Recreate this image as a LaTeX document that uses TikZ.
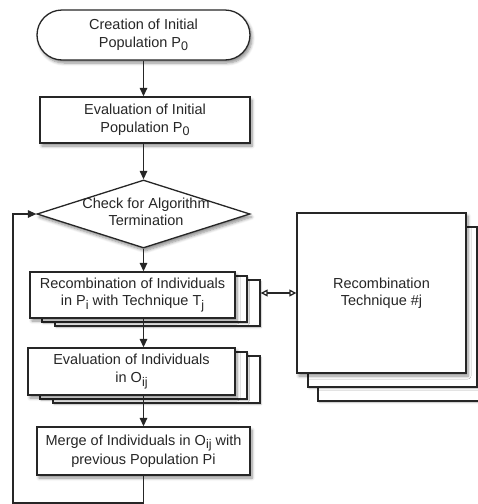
\documentclass[tikz,border=0pt]{standalone}
\usepackage{fontspec}
\setmainfont{Liberation Sans}
\usetikzlibrary{shapes.geometric,shadows,shadows.blur,arrows.meta}
\newcommand\lsub[1]{\raisebox{-0.5ex}{\fontsize{12.5}{12.5}\selectfont #1}}
\begin{document}
\begin{tikzpicture}[x=1pt,y=-1pt,
  line width=1.3pt,
  shad/.style={blur shadow={shadow xshift=2pt,shadow yshift=-3pt,shadow opacity=45,shadow blur steps=6,shadow blur radius=3pt}},
  box/.style={draw=black!85,fill=white,align=center,inner sep=0pt,
    font=\fontsize{14.5}{17.5}\selectfont,text=black!85,shad},
  stackbox/.style={draw=black!85,fill=white,inner sep=0pt,
    blur shadow={shadow xshift=1pt,shadow yshift=-1.5pt,shadow opacity=30,shadow blur radius=1.5pt}},
  flow/.style={draw=black!85,-{Triangle[length=8.5pt,width=7.5pt]}},
  dbl/.style={draw=black!85,{Triangle[open,length=7pt,width=7pt]}-{Triangle[open,length=7pt,width=7pt]}}
]
\clip (0,0) rectangle (478,504);
\useasboundingbox (0,0) rectangle (478,504);

% top terminal
\node[box,rounded corners=25pt,minimum width=213pt,minimum height=50pt] (start) at (143.5,35)
  {Creation of Initial\\Population P\lsub{0}};

% evaluation of initial population
\node[box,minimum width=210pt,minimum height=46pt] (evalinit) at (145,120)
  {Evaluation of Initial\\Population P\lsub{0}};

% diamond
\node[diamond,draw=black!85,fill=white,inner sep=0pt,minimum width=213pt,minimum height=68pt,shad] (chk) at (143.5,214) {};
\node[align=center,font=\fontsize{14.5}{17.5}\selectfont,text=black!85] (chkt) at (146,212) {Check for Algorithm\\Termination};

% recombination stack
\coordinate (recC) at (132.5,295);
\node[stackbox,minimum width=205pt,minimum height=46pt] (rec3) at ([shift={(25,8)}]recC) {};
\node[stackbox,minimum width=205pt,minimum height=46pt] (rec2) at ([shift={(12,4)}]recC) {};
\node[box,minimum width=205pt,minimum height=46pt] (rec) at (recC)
  {Recombination of Individuals\\in P\lsub{i} with Technique T\lsub{j}};

% evaluation of individuals stack
\coordinate (evC) at (131.5,371.5);
\node[stackbox,minimum width=207pt,minimum height=47pt] (ev3) at ([shift={(25,8)}]evC) {};
\node[stackbox,minimum width=207pt,minimum height=47pt] (ev2) at ([shift={(12,4)}]evC) {};
\node[box,minimum width=207pt,minimum height=47pt] (ev) at (evC)
  {Evaluation of Individuals\\in O\lsub{ij}};

% merge
\node[box,minimum width=213pt,minimum height=48pt] (merge) at (143.5,451)
  {Merge of Individuals in O\lsub{ij} with\\[2pt]previous Population Pi};

% big technique stack
\coordinate (bigC) at (381.5,293);
\node[stackbox,minimum width=169pt,minimum height=160pt] (big3) at ([shift={(21,28)}]bigC) {};
\node[stackbox,minimum width=169pt,minimum height=160pt] (big2) at ([shift={(11,14)}]bigC) {};
\node[box,minimum width=169pt,minimum height=160pt] (big) at (bigC)
  {Recombination\\Technique \#j};

% connectors
\draw[flow] (start.south -| 143.5,0) -- (143.5,0 |- evalinit.north);
\draw[flow] (143.5,0 |- evalinit.south) -- (chk.north);
\draw[flow] (chk.south) -- (chk.south |- rec.north);
\draw[flow] (chk.south |- rec.south) -- (chk.south |- ev.north);
\draw[flow] (chk.south |- ev.south) -- (chk.south |- merge.north);
\coordinate (lb) at (13,503);
\draw[flow] (merge.south) |- (lb) |- (chk.west);
\draw[dbl] (rec3.east |- big.west) -- (big.west);
\end{tikzpicture}
\end{document}
